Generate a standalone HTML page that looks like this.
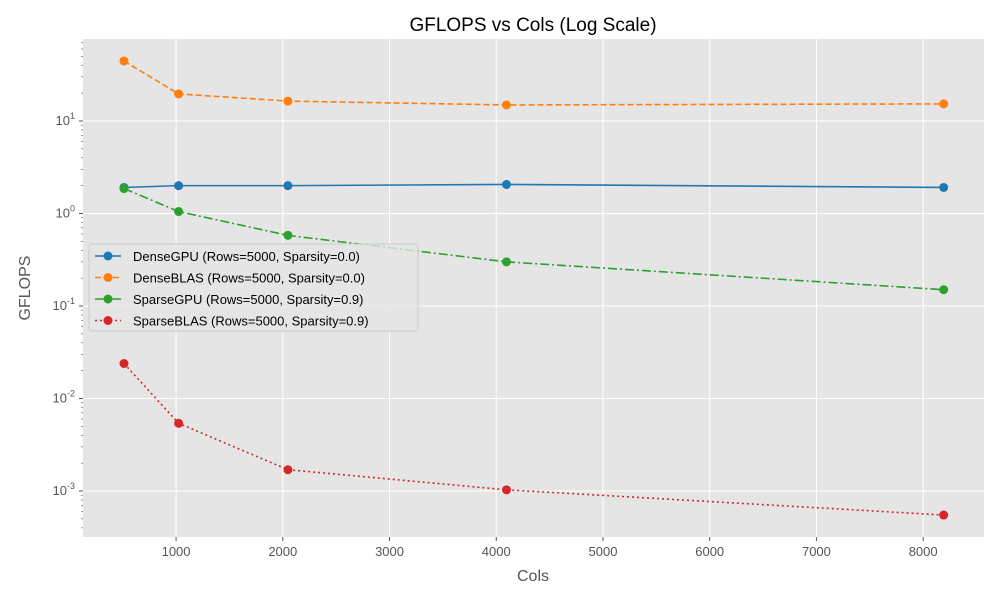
<!DOCTYPE html>
<html><head><meta charset="utf-8"><style>
body{margin:0;background:#fff;font-family:"Liberation Sans","DejaVu Sans",sans-serif;}
svg text{font-family:"Liberation Sans","DejaVu Sans",sans-serif;}
</style></head><body>
<svg id="chart" width="1000" height="600" viewBox="0 0 1000 600" xmlns="http://www.w3.org/2000/svg">
<rect width="1000" height="600" fill="#fff"/>
<rect x="83" y="39" width="901" height="498" fill="#e5e5e5"/>
<g id="grid"></g><g id="ticks"></g><g id="series"></g>
<text x="533" y="31" font-size="19" text-anchor="middle" fill="#000">GFLOPS vs Cols (Log Scale)</text>
<text x="533" y="581" font-size="16" text-anchor="middle" fill="#555">Cols</text>
<text x="30" y="288" font-size="16" text-anchor="middle" fill="#555" transform="rotate(-90 30 288)">GFLOPS</text>
<g id="legend"></g>
</svg>
<script>
const cols=[512,1024,2048,4096,8192];
const denseGPU=[1.91,2.0,2.0,2.06,1.91];
const denseBLAS=[44.5,19.6,16.4,14.9,15.3];
const sparseGPU=[1.86,1.05,0.58,0.30,0.15];
const sparseBLAS=[0.0239,0.0054,0.0017,0.00103,0.00055];
const xTicks=[1000,2000,3000,4000,5000,6000,7000,8000];
const yDecades=[-3,-2,-1,0,1];
const seriesNames=["DenseGPU (Rows=5000, Sparsity=0.0)","DenseBLAS (Rows=5000, Sparsity=0.0)","SparseGPU (Rows=5000, Sparsity=0.9)","SparseBLAS (Rows=5000, Sparsity=0.9)"];
const NS="http://www.w3.org/2000/svg";
const X0=83,X1=984,Y0=39,Y1=537,xmin=128,xmax=8570,lmin=-3.497,lmax=1.886;
const xs=v=>X0+(v-xmin)/(xmax-xmin)*(X1-X0);
const ys=v=>Y1-(Math.log10(v)-lmin)/(lmax-lmin)*(Y1-Y0);
function mk(t,a,p){const e=document.createElementNS(NS,t);for(const k in a)e.setAttribute(k,a[k]);p.appendChild(e);return e;}
const grid=document.getElementById('grid'),ticks=document.getElementById('ticks');
xTicks.forEach(v=>{const x=xs(v);
const g=mk('line',{x1:x,x2:x,y1:Y0,y2:Y1,stroke:'#fff','stroke-width':1},grid);

mk('line',{x1:x,x2:x,y1:Y1,y2:Y1+4,stroke:'#555'},ticks);
const t=mk('text',{x:x,y:Y1+19,'font-size':13,'text-anchor':'middle',fill:'#555'},ticks);t.textContent=v;
});
for(let d=-4;d<=1;d++){for(let m=2;m<10;m++){const y=ys(m*Math.pow(10,d));if(y>Y0&&y<Y1)mk('line',{x1:X0-2,x2:X0,y1:y,y2:y,stroke:'#555','stroke-width':0.6},ticks);}}
yDecades.forEach(d=>{const y=ys(Math.pow(10,d));
const g=mk('line',{x1:X0,x2:X1,y1:y,y2:y,stroke:'#fff','stroke-width':1},grid);

mk('line',{x1:X0-4,x2:X0,y1:y,y2:y,stroke:'#555'},ticks);
const t=mk('text',{x:X0-8,y:y+4,'font-size':13,'text-anchor':'end',fill:'#555'},ticks);

t.appendChild(document.createTextNode('10'));const s=mk('tspan',{dy:-6,'font-size':9},t);s.textContent=d;});
const colors=['#1f77b4','#ff7f0e','#2ca02c','#d62728'];
const dashes=['none','6,3','9,3,2,3','2,3'];
const data=[denseGPU,denseBLAS,sparseGPU,sparseBLAS];
const names=['dense-gpu','dense-blas','sparse-gpu','sparse-blas'];
const sg=document.getElementById('series');
data.forEach((arr,i)=>{
const g=mk('g',{},sg);

mk('polyline',{points:arr.map((v,j)=>xs(cols[j])+','+ys(v)).join(' '),fill:'none',stroke:colors[i],'stroke-width':1.6,'stroke-dasharray':dashes[i]},g);
arr.forEach((v,j)=>{const c=mk('circle',{cx:xs(cols[j]),cy:ys(v),r:4.5,fill:colors[i]},g);
});});
const lg=document.getElementById('legend');
mk('rect',{x:89,y:244,width:329,height:87,rx:3,fill:'#e5e5e5',stroke:'#ccc','fill-opacity':0.8},lg);
seriesNames.forEach((n,i)=>{const y=256+i*21.5;
const e=mk('g',{},lg);
mk('line',{x1:95,x2:121,y1:y,y2:y,stroke:colors[i],'stroke-width':1.6,'stroke-dasharray':dashes[i]},e);
mk('circle',{cx:108,cy:y,r:4.5,fill:colors[i]},e);
const t=mk('text',{x:133,y:y+5,'font-size':13,fill:'#000'},e);t.textContent=n;});
</script>
</body></html>
